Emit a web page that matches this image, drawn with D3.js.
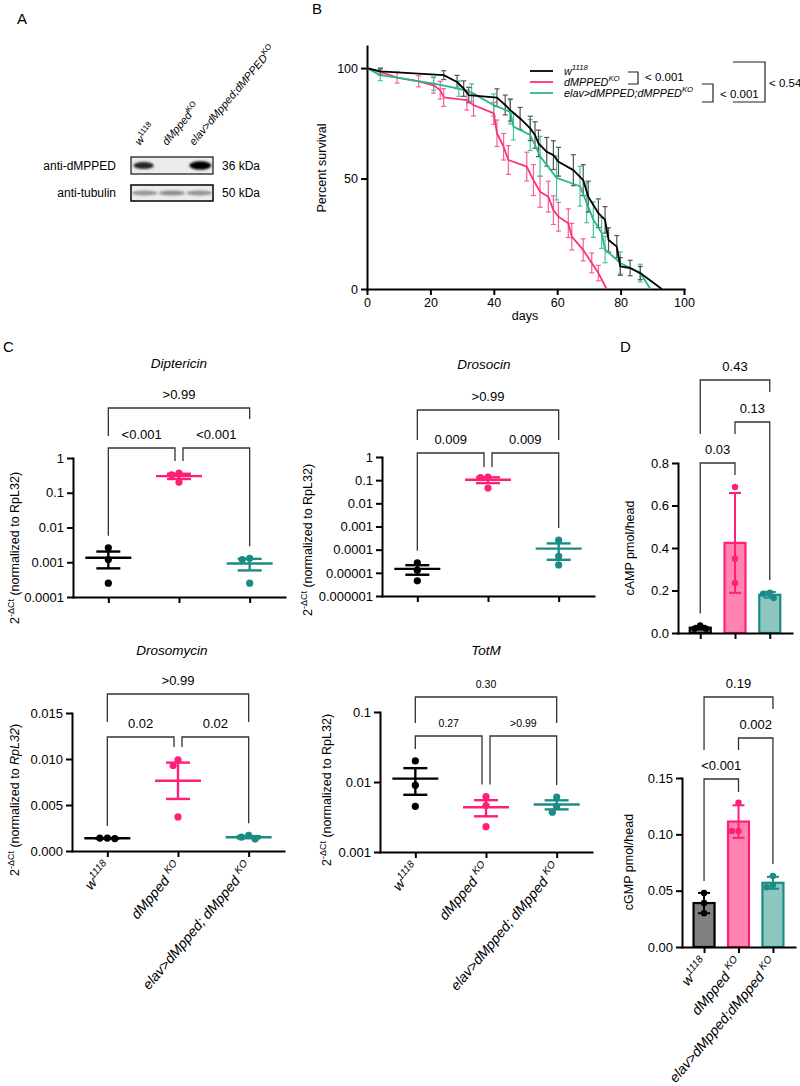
<!DOCTYPE html>
<html><head><meta charset="utf-8">
<script src="https://cdn.jsdelivr.net/npm/d3@7"></script>
<style>
body{margin:0;background:#fff}
svg{display:block}
text{font-family:"Liberation Sans",Arial,Helvetica,sans-serif;fill:#000}
</style>
</head><body>
<svg id="c" width="800" height="1086"></svg>
<script>
// ================= DATA =================
// group labels (rich text parts: [text, flags]  i=italic s=superscript)
const groupLabelsC = [
  [["w","i"],["1118","is"]],
  [["dMpped ","i"],["KO","is"]],
  [["elav>dMpped; dMpped ","i"],["KO","is"]]
];
const groupLabelsD = [
  [["w","i"],["1118","is"]],
  [["dMpped ","i"],["KO","is"]],
  [["elav>dMpped;dMpped ","i"],["KO","is"]]
];

// Panel A – western blot
const blotLaneLabels = [
  [["w","i"],["1118","s"]],
  [["dMpped","i"],["KO","s"]],
  [["elav>dMpped;dMPPED","i"],["KO","s"]]
];
const blotRows = ["anti-dMPPED", "anti-tubulin"];
const blotSizes = ["36 kDa", "50 kDa"];
const bandDMPPED = [0.72, 0.0, 1.0];
const bandTubulin = [0.5, 0.6, 0.52];

// Panel B – survival (days, percent)
const survW1118 = [[0,100],[4.2,98.5],[24.2,96.8],[28.4,93.7],[30.5,90.7],[32.1,87.8],[41,86.6],[43.6,83.3],[45.2,81],[48.3,77.2],[51.5,72.7],[53,69.7],[54.1,65.9],[56.7,62.1],[58.8,60.6],[60.4,57.6],[65.1,53.8],[68.2,49.3],[69.8,41.8],[73,34.3],[75.1,31.3],[76.2,22.2],[78.8,19.2],[79.9,10.2],[83,9.5],[86.2,7.2],[93,0]];
const survKO = [[0,100],[4.2,98.3],[9.5,95.7],[16.3,94],[21,92.2],[23.1,90],[24.2,86.7],[31.5,85.5],[33.6,83.3],[40,79.5],[41,70.5],[43.1,64.4],[44.6,58.4],[50.4,55.4],[52.5,49.3],[54.6,44],[57.2,41.8],[58.8,35.7],[60.4,32.7],[63.5,29.8],[64.6,23.7],[68.2,17.7],[70.9,11.8],[73,7.2],[75.6,0]];
const survRescue = [[0,100],[4.2,96.8],[9.5,95.7],[21,93],[29,90.7],[33,88.9],[39.9,83.3],[45.2,80.2],[46.2,73.5],[51.5,69.7],[54.6,60.1],[59.8,50.3],[67.2,46.5],[69.3,39],[71.4,31.4],[74,25.4],[75.1,17.9],[79.9,11.8],[86.2,7.2],[89.4,0]];
// error bars [day, percent, sem]
const errW1118 = [[4.2,98.5,1.5],[24.2,96.8,2],[28.4,93.7,3],[30.5,90.7,3.5],[32.1,87.8,3.5],[41,86.6,4],[43.6,83.3,4.5],[45.2,81,5],[48.3,77.2,5],[51.5,72.7,5.5],[53,69.7,6],[54.1,65.9,6],[56.7,62.1,6.5],[58.8,60.6,6.5],[60.4,57.6,6.5],[65.1,53.8,7],[68.2,49.3,7],[69.8,41.8,7],[73,34.3,6.5],[75.1,31.3,6],[76.2,22.2,5.5],[78.8,19.2,5],[79.9,10.2,4],[83,9.5,3.5],[86.2,7.2,3]];
const errKO = [[4.2,98.3,1.5],[9.5,95.7,2.5],[16.3,94,2.5],[21,92.2,3.5],[23.1,90,4],[24.2,86.7,4],[31.5,85.5,4.5],[33.6,83.3,5],[40,79.5,5],[41,70.5,6],[43.1,64.4,6],[44.6,58.4,6.5],[50.4,55.4,6.5],[52.5,49.3,7],[54.6,44,7],[57.2,41.8,7],[58.8,35.7,6.5],[60.4,32.7,6.5],[63.5,29.8,6.5],[64.6,23.7,6],[68.2,17.7,5],[70.9,11.8,4.5],[73,7.2,3.5]];
const errRescue = [[4.2,96.8,2.5],[21,93,3],[29,90.7,3.5],[33,88.9,4],[39.9,83.3,5],[45.2,80.2,5.5],[46.2,73.5,6],[51.5,69.7,7],[54.6,60.1,9],[59.8,50.3,10],[67.2,46.5,9],[69.3,39,9],[71.4,31.4,8],[74,25.4,7],[75.1,17.9,6],[79.9,11.8,5],[86.2,7.2,4]];
const survLegend = [
  [["w","i"],["1118","is"]],
  [["dMPPED","i"],["KO","is"]],
  [["elav>dMPPED;dMPPED","i"],["KO","is"]]
];
const survPvals = ["< 0.001", "< 0.001", "< 0.54"];
const survXTicks = [0,20,40,60,80,100];
const survYTicks = [0,50,100];

// Panel C – 2^-dCt values (3 replicates per group)
const diptericin = [[0.0026,0.0012,0.00025],[0.37,0.33,0.2],[0.0013,0.0012,0.00025]];
const drosocin   = [[2.7e-5,1.3e-5,4.5e-6],[0.135,0.13,0.046],[2.6e-4,5.2e-5,2.2e-5]];
const drosomycin = [[0.00135,0.0014,0.0014],[0.0099,0.0093,0.0037],[0.0013,0.0017,0.0015]];
const totM       = [[0.02,0.009,0.0045],[0.0062,0.0046,0.0023],[0.0061,0.0045,0.0037]];
const pDiptericin = [">0.99","<0.001","<0.001"];
const pDrosocin   = [">0.99","0.009","0.009"];
const pDrosomycin = [">0.99","0.02","0.02"];
const pTotM       = ["0.30","0.27",">0.99"];
const ticksDipt = [1,0.1,0.01,0.001,0.0001];
const tickLabDipt = ["1","0.1","0.01","0.001","0.0001"];
const ticksDroc = [1,0.1,0.01,0.001,0.0001,0.00001,0.000001];
const tickLabDroc = ["1","0.1","0.01","0.001","0.0001","0.00001","0.000001"];
const ticksDrom = [0,0.005,0.01,0.015];
const tickLabDrom = ["0.000","0.005","0.010","0.015"];
const ticksTotM = [0.001,0.01,0.1];
const tickLabTotM = ["0.001","0.01","0.1"];

// Panel D – pmol/head
const camp = [[0.035,0.02,0.02],[0.687,0.35,0.235],[0.165,0.185,0.19]];
const cgmp = [[0.048,0.039,0.030],[0.128,0.103,0.103],[0.063,0.055,0.053]];
const pCAMP = ["0.43","0.13","0.03"];
const pCGMP = ["0.19","0.002","<0.001"];
const ticksCAMP = [0,0.2,0.4,0.6,0.8];
const tickLabCAMP = ["0.0","0.2","0.4","0.6","0.8"];
const ticksCGMP = [0,0.05,0.1,0.15];
const tickLabCGMP = ["0.00","0.05","0.10","0.15"];

// ================= STYLE =================
const COL = ["#000000","#ff1f78","#1a8c84"];
const SURV_COL = ["#000000","#ff2f7d","#27b88e"];
const SURV_ERR = ["#555555","#f5609a","#45c5a0"];
const BAR_FILL = ["#808080","#ff84b2","#8cc6bf"];
const FONT = '"Liberation Sans", Arial, Helvetica, sans-serif';

const svg = d3.select("#c");
svg.append("rect").attr("width",800).attr("height",1086).attr("fill","#fff");

function rich(g, x, y, parts, o = {}) {
  const fs = o.size || 12;
  const t = g.append("text").attr("x", x).attr("y", y)
    .attr("font-size", fs).attr("text-anchor", o.anchor || "start");
  if (o.rotate != null) t.attr("transform", `rotate(${o.rotate},${x},${y})`);
  let raised = false;
  parts.forEach(([str, fl = ""]) => {
    const ts = t.append("tspan").text(str);
    if (fl.includes("i")) ts.attr("font-style", "italic");
    if (fl.includes("s")) {
      ts.attr("font-size", fs * 0.72);
      if (!raised) { ts.attr("dy", -fs * 0.42); raised = true; }
    } else if (raised) { ts.attr("dy", fs * 0.42); raised = false; }
  });
  return t;
}
function styleAxis(a, fs) {
  a.selectAll("path.domain").attr("stroke", "#000").attr("stroke-width", 2).attr("stroke-linecap","square");
  a.selectAll(".tick line").attr("stroke", "#000").attr("stroke-width", 2);
  a.selectAll(".tick text").attr("font-size", fs).attr("font-family", FONT).attr("fill", "#000");
}
function panelLetter(x, y, s) {
  svg.append("text").attr("x", x).attr("y", y).attr("font-size", 15).text(s);
}

// ================= PANEL A =================
(function () {
  const g = svg.append("g");
  panelLetter(17, 24, "A");
  const defs = svg.append("defs");
  defs.append("filter").attr("id", "blur").append("feGaussianBlur").attr("stdDeviation", 1.3);
  const lx = d3.scalePoint().domain([0,1,2]).range([131, 213]).padding(0.5);
  const rows = [{y0: 157, y1: 174}, {y0: 185, y1: 201}];
  rows.forEach((r, k) => {
    g.append("rect").attr("x", 131).attr("y", r.y0).attr("width", 82).attr("height", r.y1 - r.y0)
      .attr("fill", "#ececec").attr("stroke", "#111").attr("stroke-width", k ? 1.6 : 1.2);
    g.append("text").attr("x", 116).attr("y", (r.y0 + r.y1) / 2 + 4).attr("text-anchor", "end")
      .attr("font-size", 12).text(blotRows[k]);
    g.append("text").attr("x", 222).attr("y", (r.y0 + r.y1) / 2 + 4).attr("font-size", 12).text(blotSizes[k]);
  });
  const bg = g.append("g").attr("filter", "url(#blur)");
  bandDMPPED.forEach((v, i) => {
    if (v <= 0) return;
    bg.append("ellipse").attr("cx", lx(i) + (i === 0 ? -1 : 1)).attr("cy", 165.5)
      .attr("rx", 8 + v * 3).attr("ry", 2 + v * 2.2)
      .attr("fill", d3.interpolateGreys(0.55 + v * 0.45));
  });
  bandTubulin.forEach((v, i) => {
    bg.append("ellipse").attr("cx", lx(i)).attr("cy", 193).attr("rx", 13).attr("ry", 2.6)
      .attr("fill", d3.interpolateGreys(0.3 + v * 0.4));
  });
  blotLaneLabels.forEach((p, i) => {
    rich(g, lx(i) - 5, 146, p, {size: 11, rotate: -50});
  });
})();

// ================= PANEL B =================
(function () {
  const g = svg.append("g");
  panelLetter(312, 14, "B");
  const x = d3.scaleLinear().domain([0, 100]).range([367, 684]);
  const y = d3.scaleLinear().domain([0, 110]).range([289, 46]);
  const xa = g.append("g").attr("transform", "translate(0,289)")
    .call(d3.axisBottom(x).tickValues(survXTicks).tickSize(6).tickSizeOuter(0).tickPadding(3));
  styleAxis(xa, 12.5);
  const ya = g.append("g").attr("transform", "translate(367,0)")
    .call(d3.axisLeft(y).tickValues(survYTicks).tickSize(6).tickSizeOuter(0).tickPadding(3));
  styleAxis(ya, 12.5);
  g.append("text").attr("x", 525).attr("y", 320).attr("text-anchor", "middle").attr("font-size", 12.5).text("days");
  g.append("text").attr("transform", "translate(326,168) rotate(-90)").attr("text-anchor", "middle")
    .attr("font-size", 12.5).text("Percent survival");

  const series = [survKO, survRescue, survW1118];
  const errs = [errKO, errRescue, errW1118];
  const cidx = [1, 2, 0];
  errs.forEach((E, k) => {
    const c = SURV_ERR[cidx[k]];
    E.forEach(([d, v, s]) => {
      const xx = x(d), y1 = y(Math.min(v + s, 100)), y2 = y(Math.max(v - s, 0));
      g.append("line").attr("x1", xx).attr("x2", xx).attr("y1", y1).attr("y2", y2).attr("stroke", c).attr("stroke-width", 1.2);
      [y1, y2].forEach(yy => g.append("line").attr("x1", xx - 2.5).attr("x2", xx + 2.5).attr("y1", yy).attr("y2", yy).attr("stroke", c).attr("stroke-width", 1.2));
    });
  });
  const line = d3.line().x(d => x(d[0])).y(d => y(d[1]));
  series.forEach((S, k) => {
    g.append("path").attr("d", line(S)).attr("fill", "none").attr("stroke", SURV_COL[cidx[k]])
      .attr("stroke-width", 1.8).attr("stroke-linejoin", "round");
  });
  // legend
  [71, 82, 93].forEach((yy, i) => {
    g.append("line").attr("x1", 530).attr("x2", 553).attr("y1", yy).attr("y2", yy)
      .attr("stroke", SURV_COL[i]).attr("stroke-width", 1.8);
    rich(g, 564, yy + 4, survLegend[i], {size: 10.8});
  });
  const br = "#222";
  g.append("path").attr("d", "M628,72H638V84H628").attr("fill", "none").attr("stroke", br).attr("stroke-width", 1.2);
  g.append("text").attr("x", 645).attr("y", 81).attr("font-size", 11.5).text(survPvals[0]);
  g.append("path").attr("d", "M702,84H713V102H702").attr("fill", "none").attr("stroke", br).attr("stroke-width", 1.2);
  g.append("text").attr("x", 720).attr("y", 98).attr("font-size", 11.5).text(survPvals[1]);
  g.append("path").attr("d", "M733,62H765V102H733").attr("fill", "none").attr("stroke", br).attr("stroke-width", 1.2);
  g.append("text").attr("x", 769).attr("y", 87).attr("font-size", 11.5).text(survPvals[2]);
})();

// ================= helpers for C & D =================
function swarm(vals, y, r) {
  const placed = [];
  const idx = vals.map((v, i) => i).sort((a, b) => y(vals[a]) - y(vals[b]));
  const out = new Array(vals.length);
  idx.forEach(i => {
    const py = y(vals[i]);
    const cands = [0];
    placed.forEach(q => {
      const dy = Math.abs(q.py - py);
      if (dy < 2 * r) { const w = Math.sqrt(4 * r * r - dy * dy) + 0.3; cands.push(q.dx + w, q.dx - w); }
    });
    cands.sort((a, b) => Math.abs(a) - Math.abs(b) || a - b);
    let dx = 0;
    for (const c of cands) {
      if (placed.every(q => Math.hypot(q.dx - c, q.py - py) >= 2 * r - 0.01)) { dx = c; break; }
    }
    placed.push({dx, py});
    out[i] = dx;
  });
  return out;
}
function drawBrackets(g, x, y, specs, tops, fs) {
  specs.forEach(b => {
    const xa = x(b.a) + (b.sa || 0), xb = x(b.b) - (b.sb || 0);
    const la = b.la != null ? b.y + b.la : y(tops[b.a]) - 12;
    const lb = b.lb != null ? b.y + b.lb : y(tops[b.b]) - 12;
    g.append("path").attr("d", `M${xa},${la}V${b.y}H${xb}V${lb}`).attr("fill", "none")
      .attr("stroke", "#333").attr("stroke-width", 1.3);
    g.append("text").attr("x", (xa + xb) / 2).attr("y", b.y - 9).attr("text-anchor", "middle")
      .attr("font-size", fs).text(b.label);
  });
}
function axes(g, o, x, y, fs) {
  const ya = g.append("g").attr("transform", `translate(${o.axL},0)`)
    .call(d3.axisLeft(y).tickValues(o.ticks).tickFormat(d => o.tickLabels[o.ticks.indexOf(d)])
      .tickSize(6).tickSizeOuter(0).tickPadding(3));
  styleAxis(ya, fs);
  const xa = g.append("g").attr("transform", `translate(0,${o.axB})`)
    .call(d3.axisBottom(x).tickSize(6).tickSizeOuter(0).tickFormat(""));
  styleAxis(xa, fs);
  if (o.xLabels) o.xLabels.forEach((p, i) => rich(g, x(i) + 4, o.axB + 16, p, {size: 14, anchor: "end", rotate: -50}));
}

function dotPanel(o) {
  const g = svg.append("g");
  const x = d3.scalePoint().domain([0, 1, 2]).range([o.axL, o.axR]).padding(0.5);
  const y = (o.log ? d3.scaleLog() : d3.scaleLinear()).domain(o.domain).range([o.axB, o.axT]);
  axes(g, o, x, y, 13);
  const tops = [];
  o.data.forEach((vals, gi) => {
    const m = d3.mean(vals), s = d3.deviation(vals) / Math.sqrt(vals.length);
    tops.push(Math.max(d3.max(vals), m + s));
    const cx = x(gi), c = COL[gi];
    const dxs = swarm(vals, y, 3.6);
    vals.forEach((v, k) => g.append("circle").attr("cx", cx + dxs[k]).attr("cy", y(v)).attr("r", 3.6).attr("fill", c));
    const ln = (x1, x2, y1, y2) => g.append("line").attr("x1", x1).attr("x2", x2).attr("y1", y1).attr("y2", y2)
      .attr("stroke", c).attr("stroke-width", 2.4);
    ln(cx, cx, y(m + s), y(m - s));
    ln(cx - 23, cx + 23, y(m), y(m));
    ln(cx - 12, cx + 12, y(m + s), y(m + s));
    ln(cx - 12, cx + 12, y(m - s), y(m - s));
  });
  drawBrackets(g, x, y, o.brackets, tops, o.pfs || 13);
  g.append("text").attr("x", o.titleX).attr("y", o.titleY).attr("text-anchor", "middle")
    .attr("font-size", 13.5).attr("font-style", "italic").text(o.title);
  rich(g, o.ylX, o.ylY, o.ylabel, {size: 12.5, anchor: "middle", rotate: -90});
}

function barPanel(o) {
  const g = svg.append("g");
  const x = d3.scalePoint().domain([0, 1, 2]).range([o.axL, o.axR]).padding(0.64);
  const y = d3.scaleLinear().domain(o.domain).range([o.axB, o.axT]);
  const tops = [];
  o.data.forEach((vals, gi) => {
    const m = d3.mean(vals), s = d3.deviation(vals);
    tops.push(Math.max(d3.max(vals), m + s));
    const cx = x(gi), c = COL[gi];
    g.append("rect").attr("x", cx - 10.5).attr("width", 21).attr("y", y(m)).attr("height", o.axB - y(m))
      .attr("fill", BAR_FILL[gi]).attr("stroke", c).attr("stroke-width", 2.2);
    const ln = (x1, x2, y1, y2) => g.append("line").attr("x1", x1).attr("x2", x2).attr("y1", y1).attr("y2", y2)
      .attr("stroke", c).attr("stroke-width", 2);
    ln(cx, cx, y(m + s), y(Math.max(m - s, 0)));
    ln(cx - 6, cx + 6, y(m + s), y(m + s));
    if (m - s > 0) ln(cx - 6, cx + 6, y(m - s), y(m - s));
    const dxs = swarm(vals, y, 3.2);
    vals.forEach((v, k) => g.append("circle").attr("cx", cx + dxs[k]).attr("cy", y(v)).attr("r", 3.2).attr("fill", c));
  });
  axes(g, o, x, y, 13);
  drawBrackets(g, x, y, o.brackets, tops, 13);
  g.append("text").attr("transform", `translate(${o.ylX},${o.ylY}) rotate(-90)`).attr("text-anchor", "middle")
    .attr("font-size", 12.5).text(o.ylabel);
}

// ================= PANEL C =================
panelLetter(3, 352, "C");
const ylabC = [["2"],["-ΔCt","s"],[" (normalized to RpL32)"]];
const ylabC2 = [["2"],["-ΔCt","s"],[" (normalized to "],["RpL32","i"],[")"]];
dotPanel({
  axL: 73, axR: 285, axT: 458, axB: 597, log: true, domain: [1e-4, 1],
  ticks: ticksDipt, tickLabels: tickLabDipt, data: diptericin,
  title: "Diptericin", titleX: 179, titleY: 368, ylabel: ylabC, ylX: 19, ylY: 548,
  brackets: [
    {a: 0, b: 2, y: 408, la: 28, lb: 11, label: pDiptericin[0]},
    {a: 0, b: 1, y: 448, la: null, lb: 13, sb: 4, label: pDiptericin[1]},
    {a: 1, b: 2, y: 448, la: 13, lb: null, sa: 4, label: pDiptericin[2]}
  ]
});
dotPanel({
  axL: 382, axR: 594, axT: 457, axB: 596, log: true, domain: [1e-6, 1],
  ticks: ticksDroc, tickLabels: tickLabDroc, data: drosocin,
  title: "Drosocin", titleX: 484, titleY: 369, ylabel: ylabC, ylX: 312, ylY: 540,
  brackets: [
    {a: 0, b: 2, y: 410, la: 30, lb: 30, label: pDrosocin[0]},
    {a: 0, b: 1, y: 453, la: null, lb: 14, sb: 4, label: pDrosocin[1]},
    {a: 1, b: 2, y: 453, la: 14, lb: null, sa: 4, label: pDrosocin[2]}
  ]
});
dotPanel({
  axL: 72, axR: 284, axT: 713, axB: 851, log: false, domain: [0, 0.015],
  ticks: ticksDrom, tickLabels: tickLabDrom, data: drosomycin, xLabels: groupLabelsC,
  title: "Drosomycin", titleX: 172, titleY: 655, ylabel: ylabC2, ylX: 19, ylY: 800,
  brackets: [
    {a: 0, b: 2, y: 694, la: 28, lb: 28, label: pDrosomycin[0]},
    {a: 0, b: 1, y: 737, la: null, lb: 10, sb: 4, label: pDrosomycin[1]},
    {a: 1, b: 2, y: 737, la: 10, lb: null, sa: 4, label: pDrosomycin[2]}
  ]
});
dotPanel({
  axL: 380, axR: 592, axT: 712, axB: 852, log: true, domain: [0.001, 0.1],
  ticks: ticksTotM, tickLabels: tickLabTotM, data: totM, xLabels: groupLabelsC, pfs: 10.5,
  title: "TotM", titleX: 486, titleY: 655, ylabel: ylabC, ylX: 331, ylY: 790,
  brackets: [
    {a: 0, b: 2, y: 697, la: 26, lb: 26, label: pTotM[0]},
    {a: 0, b: 1, y: 736, la: null, lb: null, sb: 4, label: pTotM[1]},
    {a: 1, b: 2, y: 736, la: null, lb: null, sa: 4, label: pTotM[2]}
  ]
});

// ================= PANEL D =================
panelLetter(620, 352, "D");
barPanel({
  axL: 678, axR: 792, axT: 463, axB: 633, domain: [0, 0.8],
  ticks: ticksCAMP, tickLabels: tickLabCAMP, data: camp,
  ylabel: "cAMP pmol/head", ylX: 634, ylY: 548,
  brackets: [
    {a: 0, b: 2, y: 380, la: 54, lb: 12, label: pCAMP[0]},
    {a: 1, b: 2, y: 422, la: 12, lb: null, label: pCAMP[1]},
    {a: 0, b: 1, y: 463, la: null, lb: 12, label: pCAMP[2]}
  ]
});
barPanel({
  axL: 682, axR: 795, axT: 778, axB: 947, domain: [0, 0.15],
  ticks: ticksCGMP, tickLabels: tickLabCGMP, data: cgmp, xLabels: groupLabelsD,
  ylabel: "cGMP pmol/head", ylX: 633, ylY: 862,
  brackets: [
    {a: 0, b: 2, y: 697, la: 53, lb: 12, label: pCGMP[0]},
    {a: 1, b: 2, y: 738, la: 12, lb: null, label: pCGMP[1]},
    {a: 0, b: 1, y: 779, la: null, lb: 13, label: pCGMP[2]}
  ]
});
</script>
</body></html>
